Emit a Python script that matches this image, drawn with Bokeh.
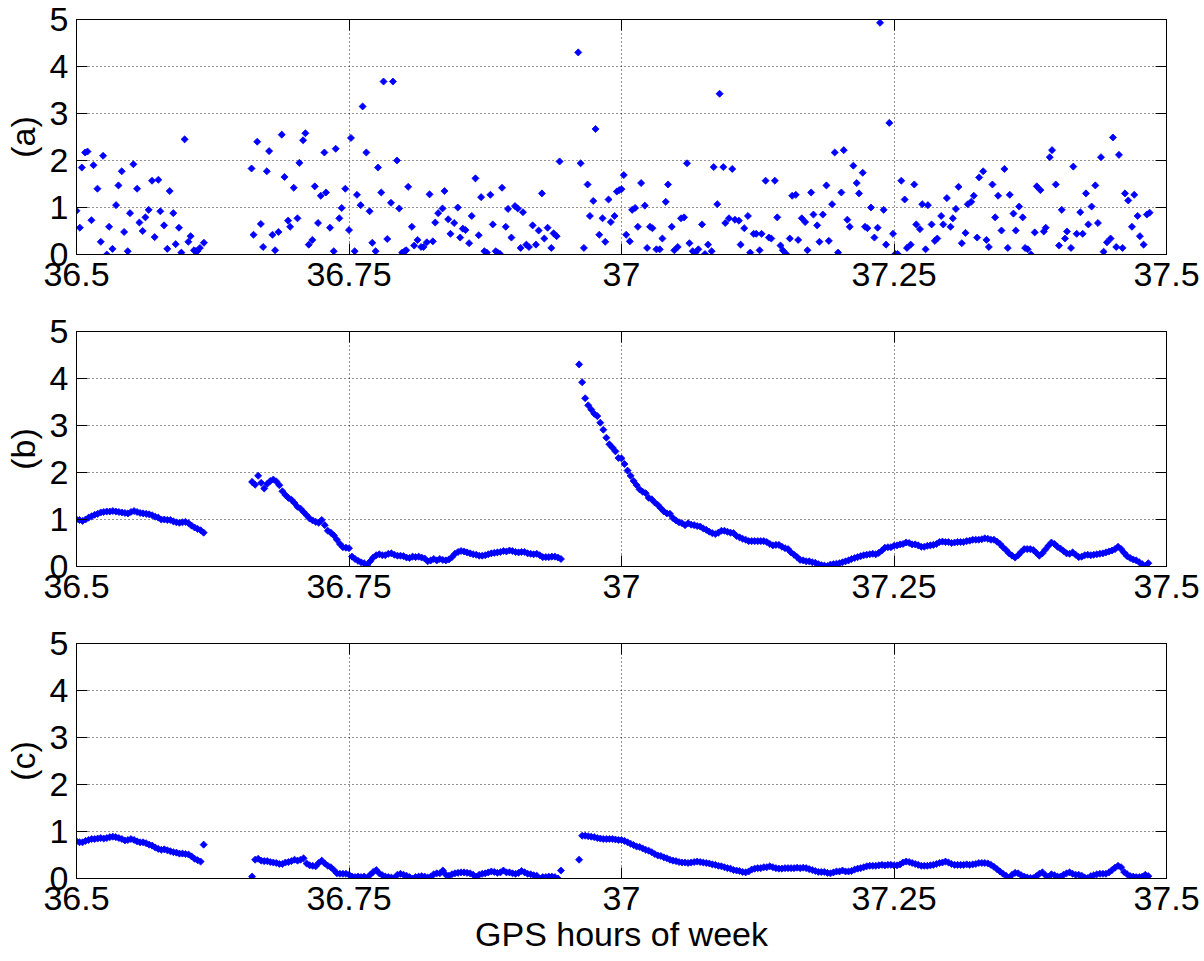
from bokeh.plotting import figure
from bokeh.models import Range1d, FixedTicker, LinearAxis, CustomJSTickFormatter
from bokeh.layouts import column
from bokeh.embed import file_html
from bokeh.resources import INLINE

# ---------------- data ----------------
x_ticks = [36.5, 36.75, 37.0, 37.25, 37.5]
y_ticks = [0, 1, 2, 3, 4, 5]
panel_labels = ["(a)", "(b)", "(c)"]
x_label = "GPS hours of week"

# panel (a): scattered values (hours, value)
a_hours = [
    36.5000, 36.5031, 36.5049, 36.5079, 36.5101, 36.5137, 36.5156, 36.5192, 36.5223, 36.5244,
    36.5278, 36.5299, 36.5330, 36.5363, 36.5385, 36.5415, 36.5437, 36.5470, 36.5491, 36.5522,
    36.5556, 36.5577, 36.5607, 36.5632, 36.5662, 36.5693, 36.5717, 36.5751, 36.5769, 36.5803,
    36.5833, 36.5855, 36.5888, 36.5910, 36.5940, 36.5962, 36.5992, 36.6026, 36.6047, 36.6078,
    36.6093, 36.6108, 36.6132, 36.6169,
    36.6606, 36.6624, 36.6658, 36.6691, 36.6712, 36.6746, 36.6767, 36.6798, 36.6822, 36.6853,
    36.6883, 36.6908, 36.6941, 36.6960, 36.6993, 36.7027, 36.7045, 36.7079, 36.7100, 36.7131,
    36.7164, 36.7186, 36.7216, 36.7241, 36.7274, 36.7289, 36.7326, 36.7360, 36.7378, 36.7411,
    36.7433, 36.7466, 36.7500, 36.7518, 36.7552, 36.7573, 36.7607, 36.7625, 36.7659, 36.7689,
    36.7714, 36.7744, 36.7766, 36.7796, 36.7817, 36.7851, 36.7885, 36.7903, 36.7940, 36.7961,
    36.7988, 36.8010, 36.8025, 36.8043, 36.8077, 36.8098, 36.8129, 36.8162, 36.8184, 36.8214,
    36.8239, 36.8269, 36.8291, 36.8318, 36.8358, 36.8376, 36.8410, 36.8431, 36.8465, 36.8498,
    36.8520, 36.8544, 36.8569, 36.8602, 36.8626, 36.8660, 36.8690, 36.8712, 36.8742, 36.8764,
    36.8797, 36.8819, 36.8846, 36.8864, 36.8886, 36.8904, 36.8938, 36.8959, 36.8990, 36.9023,
    36.9048, 36.9075, 36.9096, 36.9127, 36.9151, 36.9185, 36.9215, 36.9240, 36.9270, 36.9292,
    36.9322, 36.9356, 36.9377, 36.9405, 36.9432,
    36.9603, 36.9625, 36.9655, 36.9689, 36.9710, 36.9741, 36.9762, 36.9796, 36.9826, 36.9851,
    36.9881, 36.9902, 36.9936, 36.9957, 36.9979, 37.0000, 37.0021, 37.0043, 37.0076, 37.0098,
    37.0125, 37.0150, 37.0180, 37.0214, 37.0235, 37.0262, 37.0284, 37.0320, 37.0351, 37.0375,
    37.0406, 37.0427, 37.0461, 37.0485, 37.0516, 37.0546, 37.0574, 37.0601, 37.0623, 37.0653,
    37.0678, 37.0705, 37.0739, 37.0766, 37.0794, 37.0827, 37.0846, 37.0879, 37.0900, 37.0934,
    37.0952, 37.0986, 37.1016, 37.1041, 37.1077, 37.1093, 37.1126, 37.1160, 37.1181, 37.1212,
    37.1236, 37.1267, 37.1285, 37.1322, 37.1352, 37.1374, 37.1407, 37.1429, 37.1459, 37.1480,
    37.1511, 37.1544, 37.1566, 37.1599, 37.1621, 37.1654, 37.1685, 37.1706, 37.1740, 37.1761,
    37.1795, 37.1816, 37.1847, 37.1880, 37.1902, 37.1932, 37.1956, 37.1987, 37.2017, 37.2039,
    37.2072, 37.2094, 37.2127, 37.2158, 37.2179, 37.2213, 37.2234, 37.2256, 37.2289, 37.2320,
    37.2350, 37.2372, 37.2405, 37.2427, 37.2457, 37.2491, 37.2512, 37.2534, 37.2567, 37.2598,
    37.2619, 37.2653, 37.2686, 37.2704, 37.2738, 37.2759, 37.2790, 37.2811, 37.2845, 37.2875,
    37.2897, 37.2933, 37.2952, 37.2985, 37.3019, 37.3040, 37.3068, 37.3092, 37.3122, 37.3156,
    37.3177, 37.3208, 37.3232, 37.3263, 37.3281, 37.3318, 37.3348, 37.3370, 37.3403, 37.3428,
    37.3455, 37.3486, 37.3513, 37.3544, 37.3562, 37.3596, 37.3617, 37.3648, 37.3681, 37.3703,
    37.3727, 37.3758, 37.3791, 37.3810, 37.3843, 37.3874, 37.3892, 37.3929, 37.3950, 37.3984,
    37.4014, 37.4039, 37.4069, 37.4087, 37.4124, 37.4145, 37.4176, 37.4209, 37.4231, 37.4261,
    37.4283, 37.4313, 37.4347, 37.4371, 37.4399, 37.4423, 37.4454, 37.4487, 37.4509, 37.4539,
    37.4564, 37.4597, 37.4619, 37.4649, 37.4683, 37.4704, 37.4735, 37.4756, 37.4790, 37.4820,
    37.4845,
]
a_values = [
    0.93, 0.57, 1.85, 2.17, 2.19, 0.73, 1.90, 1.40, 0.27, 2.10,
    0.00, 0.59, 0.12, 1.05, 1.47, 1.77, 0.48, 0.07, 0.88, 1.92,
    1.40, 0.68, 0.50, 0.79, 0.95, 1.57, 0.37, 1.59, 0.92, 0.62,
    0.12, 1.35, 0.88, 0.22, 0.57, 0.04, 2.45, 0.27, 0.39, 0.09,
    0.07, 0.07, 0.14, 0.25,
    1.83, 0.42, 2.40, 0.65, 0.16, 1.77, 2.20, 0.42, 0.09, 0.48,
    2.55, 1.65, 0.72, 0.59, 1.42, 0.77, 1.95, 2.43, 2.58, 0.21,
    0.31, 1.45, 0.67, 1.25, 2.17, 1.32, 0.57, 0.07, 2.25, 0.77,
    0.99, 1.40, 0.52, 2.48, 0.07, 1.27, 1.05, 3.15, 2.17, 0.92,
    0.25, 0.07, 1.85, 1.32, 3.68, 0.33, 1.10, 3.68, 2.00, 0.98,
    0.04, 0.07, 0.09, 1.44, 0.59, 0.19, 0.31, 0.16, 0.16, 0.26,
    1.28, 0.28, 0.68, 0.88, 0.98, 1.35, 0.75, 0.44, 0.67, 1.00,
    0.36, 0.55, 0.52, 0.24, 0.82, 1.62, 0.41, 1.22, 0.07, 0.04,
    1.27, 0.64, 0.07, 0.04, 0.01, 1.42, 0.59, 0.97, 0.36, 1.03,
    0.98, 0.14, 0.90, 0.21, 0.16, 0.62, 0.21, 0.51, 1.30, 0.34,
    0.57, 0.14, 0.45, 0.39, 1.98,
    4.30, 1.94, 0.14, 1.49, 0.82, 1.14, 2.67, 0.42, 0.77, 0.27,
    1.17, 0.69, 0.82, 1.34, 1.37, 1.39, 1.69, 0.42, 0.28, 0.95,
    0.99, 0.59, 1.52, 1.04, 0.14, 0.59, 0.56, 0.11, 0.11, 0.34,
    1.12, 1.49, 0.59, 0.09, 0.16, 0.77, 0.79, 1.94, 0.24, 0.07,
    0.04, 0.11, 0.64, 0.01, 0.21, 0.07, 1.86, 1.07, 3.42, 1.86,
    0.67, 0.77, 1.82, 0.74, 0.72, 0.21, 0.56, 0.82, 0.04, 0.44,
    0.44, 0.09, 0.44, 1.57, 0.36, 0.34, 1.57, 0.79, 0.19, 0.09,
    0.01, 0.34, 1.25, 1.27, 0.31, 0.77, 0.69, 0.09, 1.32, 0.85,
    0.62, 0.27, 0.85, 1.47, 0.29, 1.07, 2.17, 0.04, 1.32, 2.22,
    0.74, 0.59, 1.89, 1.52, 1.30, 1.74, 0.59, 0.56, 1.00, 0.36,
    0.57, 4.93, 0.95, 0.21, 2.80, 0.44, 0.01, 0.01, 1.57, 1.17,
    0.14, 0.21, 1.49, 0.64, 0.54, 1.07, 0.11, 1.05, 0.64, 0.29,
    0.34, 0.82, 0.64, 1.20, 0.59, 0.77, 0.97, 1.44, 0.24, 0.46,
    1.07, 1.12, 1.25, 0.36, 1.64, 1.77, 0.31, 0.16, 1.49, 0.79,
    1.25, 0.51, 1.82, 0.14, 1.27, 0.87, 0.51, 1.02, 0.79, 0.14,
    0.11, 0.00, 0.47, 1.45, 1.37, 0.49, 0.57, 2.07, 2.22, 1.49,
    0.19, 0.95, 0.34, 0.49, 0.14, 1.87, 0.44, 0.90, 0.44, 1.30,
    0.64, 1.02, 1.47, 0.67, 2.07, 0.06, 0.26, 0.34, 2.49, 0.16,
    2.12, 0.14, 1.30, 1.15, 0.59, 1.27, 0.82, 0.39, 0.21, 0.85,
    0.89,
]

# panels (b) and (c): one value per 10-s epoch, three data arcs
epoch_hours = 10.0 / 3600.0
arc_start_hours = [36.5, 36.66111, 36.96111]

b_arc1 = [
    1.00, 0.99, 0.97, 1.00, 1.04, 1.07, 1.10, 1.12, 1.15, 1.16,
    1.17, 1.17, 1.18, 1.17, 1.16, 1.15, 1.14, 1.13, 1.16, 1.18,
    1.16, 1.14, 1.13, 1.12, 1.11, 1.09, 1.06, 1.04, 1.00, 1.00,
    0.99, 0.99, 0.96, 0.94, 0.93, 0.94, 0.95, 0.92, 0.87, 0.83,
    0.80, 0.77, 0.72,
]
b_arc2 = [
    1.80, 1.74, 1.93, 1.78, 1.66, 1.76, 1.82, 1.85, 1.81, 1.73,
    1.60, 1.52, 1.46, 1.42, 1.35, 1.27, 1.23, 1.16, 1.09, 1.02,
    0.98, 0.95, 0.93, 0.99, 0.88, 0.76, 0.72, 0.66, 0.57, 0.48,
    0.41, 0.40, 0.39, 0.21, 0.16, 0.12, 0.09, 0.07, 0.03, 0.11,
    0.19, 0.24, 0.26, 0.24, 0.24, 0.27, 0.28, 0.25, 0.23, 0.23,
    0.22, 0.19, 0.18, 0.21, 0.20, 0.21, 0.19, 0.17, 0.11, 0.13,
    0.16, 0.13, 0.16, 0.14, 0.13, 0.15, 0.20, 0.27, 0.31, 0.33,
    0.32, 0.30, 0.28, 0.26, 0.25, 0.23, 0.23, 0.24, 0.26, 0.28,
    0.29, 0.30, 0.31, 0.33, 0.32, 0.34, 0.33, 0.31, 0.30, 0.31,
    0.31, 0.28, 0.27, 0.26, 0.27, 0.24, 0.20, 0.20, 0.20, 0.21,
    0.21, 0.19, 0.16,
]
b_arc3 = [
    4.30, 3.92, 3.58, 3.43, 3.34, 3.25, 3.20, 3.06, 2.91, 2.74,
    2.60, 2.53, 2.45, 2.31, 2.30, 2.18, 2.04, 1.93, 1.82, 1.73,
    1.64, 1.59, 1.56, 1.46, 1.43, 1.36, 1.31, 1.24, 1.17, 1.13,
    1.12, 1.03, 0.98, 0.94, 0.92, 0.88, 0.92, 0.89, 0.88, 0.86,
    0.85, 0.81, 0.78, 0.74, 0.71, 0.69, 0.72, 0.76, 0.76, 0.74,
    0.72, 0.71, 0.65, 0.62, 0.59, 0.57, 0.54, 0.54, 0.54, 0.54,
    0.54, 0.54, 0.52, 0.48, 0.45, 0.46, 0.46, 0.42, 0.39, 0.37,
    0.30, 0.25, 0.20, 0.14, 0.13, 0.11, 0.11, 0.09, 0.08, 0.05,
    0.03, 0.02, 0.01, 0.04, 0.05, 0.06, 0.07, 0.09, 0.11, 0.13,
    0.16, 0.18, 0.20, 0.22, 0.24, 0.25, 0.26, 0.27, 0.26, 0.29,
    0.34, 0.40, 0.41, 0.41, 0.44, 0.45, 0.47, 0.48, 0.51, 0.50,
    0.47, 0.47, 0.45, 0.42, 0.42, 0.44, 0.45, 0.46, 0.48, 0.52,
    0.53, 0.52, 0.52, 0.50, 0.51, 0.52, 0.52, 0.52, 0.54, 0.55,
    0.57, 0.57, 0.57, 0.58, 0.60, 0.59, 0.57, 0.57, 0.53, 0.48,
    0.41, 0.35, 0.28, 0.23, 0.19, 0.24, 0.31, 0.37, 0.37, 0.37,
    0.35, 0.29, 0.23, 0.28, 0.36, 0.44, 0.51, 0.48, 0.42, 0.38,
    0.33, 0.28, 0.27, 0.30, 0.25, 0.20, 0.21, 0.24, 0.25, 0.24,
    0.25, 0.26, 0.27, 0.28, 0.30, 0.32, 0.34, 0.37, 0.42, 0.37,
    0.29, 0.22, 0.18, 0.15, 0.13, 0.09, 0.05, 0.01, 0.07,
]

c_arc1 = [
    0.79, 0.77, 0.77, 0.80, 0.82, 0.84, 0.84, 0.85, 0.86, 0.85,
    0.86, 0.88, 0.89, 0.88, 0.86, 0.84, 0.81, 0.82, 0.84, 0.82,
    0.79, 0.77, 0.77, 0.75, 0.72, 0.70, 0.66, 0.63, 0.61, 0.62,
    0.60, 0.58, 0.56, 0.55, 0.53, 0.53, 0.52, 0.51, 0.47, 0.42,
    0.39, 0.36, 0.72,
]
c_arc2 = [
    0.04, 0.40, 0.42, 0.38, 0.37, 0.37, 0.35, 0.34, 0.33, 0.31,
    0.31, 0.34, 0.35, 0.37, 0.40, 0.38, 0.40, 0.43, 0.32, 0.28,
    0.27, 0.26, 0.33, 0.38, 0.32, 0.27, 0.24, 0.18, 0.11, 0.10,
    0.10, 0.10, 0.08, 0.04, 0.03, 0.04, 0.03, 0.04, 0.01, 0.08,
    0.14, 0.18, 0.11, 0.07, 0.04, 0.03, 0.02, 0.01, 0.08, 0.10,
    0.08, 0.06, 0.03, 0.00, 0.03, 0.04, 0.05, 0.04, 0.02, 0.04,
    0.09, 0.11, 0.11, 0.17, 0.08, 0.06, 0.09, 0.11, 0.12, 0.13,
    0.13, 0.12, 0.11, 0.08, 0.04, 0.08, 0.10, 0.11, 0.13, 0.15,
    0.14, 0.12, 0.13, 0.17, 0.13, 0.13, 0.11, 0.10, 0.12, 0.16,
    0.13, 0.10, 0.09, 0.07, 0.06, 0.00, 0.03, 0.03, 0.04, 0.04,
    0.03, 0.00, 0.17,
]
c_arc3 = [
    0.40, 0.91, 0.91, 0.90, 0.89, 0.88, 0.86, 0.85, 0.84, 0.84,
    0.84, 0.84, 0.83, 0.82, 0.82, 0.80, 0.77, 0.74, 0.71, 0.68,
    0.67, 0.64, 0.61, 0.59, 0.56, 0.52, 0.49, 0.48, 0.45, 0.43,
    0.40, 0.38, 0.37, 0.35, 0.34, 0.34, 0.33, 0.34, 0.35, 0.36,
    0.35, 0.34, 0.33, 0.32, 0.30, 0.29, 0.27, 0.26, 0.24, 0.22,
    0.21, 0.18, 0.17, 0.16, 0.14, 0.13, 0.15, 0.19, 0.21, 0.22,
    0.22, 0.24, 0.24, 0.26, 0.24, 0.22, 0.21, 0.21, 0.22, 0.22,
    0.22, 0.22, 0.23, 0.22, 0.23, 0.22, 0.20, 0.18, 0.16, 0.14,
    0.14, 0.14, 0.12, 0.11, 0.13, 0.15, 0.15, 0.17, 0.15, 0.15,
    0.16, 0.19, 0.21, 0.22, 0.24, 0.26, 0.27, 0.27, 0.27, 0.28,
    0.29, 0.28, 0.29, 0.29, 0.28, 0.28, 0.30, 0.34, 0.36, 0.35,
    0.33, 0.31, 0.29, 0.27, 0.27, 0.27, 0.28, 0.29, 0.31, 0.33,
    0.34, 0.36, 0.34, 0.31, 0.29, 0.29, 0.29, 0.29, 0.30, 0.29,
    0.30, 0.31, 0.33, 0.33, 0.33, 0.32, 0.29, 0.25, 0.20, 0.15,
    0.10, 0.06, 0.01, 0.08, 0.12, 0.11, 0.07, 0.04, 0.02, 0.01,
    0.01, 0.05, 0.10, 0.13, 0.07, 0.04, 0.09, 0.07, 0.04, 0.04,
    0.08, 0.11, 0.13, 0.10, 0.08, 0.08, 0.06, 0.02, 0.01, 0.05,
    0.07, 0.09, 0.10, 0.10, 0.10, 0.13, 0.18, 0.23, 0.27, 0.24,
    0.14, 0.09, 0.05, 0.04, 0.03, 0.03, 0.04, 0.08, 0.05,
]


def arcs_to_xy(arcs):
    xs, ys = [], []
    for start, arc in zip(arc_start_hours, arcs):
        for i, v in enumerate(arc):
            xs.append(start + i * epoch_hours)
            ys.append(v)
    return xs, ys


b_hours, b_values = arcs_to_xy([b_arc1, b_arc2, b_arc3])
c_hours, c_values = arcs_to_xy([c_arc1, c_arc2, c_arc3])

# ---------------- styling ----------------
FONT = "Liberation Sans"
BLUE = "#0000ff"


def make_panel(label, xs, ys, height, bottom_border, xlabel=None):
    p = figure(
        width=1204, height=height,
        x_range=Range1d(36.5, 37.5), y_range=Range1d(0, 5),
        output_backend="svg", toolbar_location=None, tools="",
        min_border_left=76, min_border_right=38,
        min_border_top=19, min_border_bottom=bottom_border,
        background_fill_color="white", border_fill_color="white",
    )
    p.outline_line_color = "black"
    p.outline_line_width = 1

    for ax, ticks in ((p.xaxis[0], x_ticks), (p.yaxis[0], y_ticks)):
        ax.ticker = FixedTicker(ticks=ticks)
        ax.formatter = CustomJSTickFormatter(code="return tick.toString();")
        ax.major_tick_in = 11
        ax.major_tick_out = 0
        ax.minor_tick_line_color = None
        ax.major_tick_line_color = "black"
        ax.axis_line_color = "black"
        ax.major_label_text_font = FONT
        ax.major_label_text_font_size = "34px"
        ax.major_label_text_color = "black"
        ax.major_label_standoff = 8
        ax.axis_label_text_font = FONT
        ax.axis_label_text_font_size = "34px"
        ax.axis_label_text_font_style = "normal"
        ax.axis_label_text_color = "black"

    p.yaxis[0].axis_label = label
    p.yaxis[0].axis_label_standoff = 5
    if xlabel:
        p.xaxis[0].axis_label = xlabel
        p.xaxis[0].axis_label_standoff = 2

    # mirrored tick marks on top and right, like a boxed plot
    top = LinearAxis(ticker=FixedTicker(ticks=x_ticks),
                     formatter=CustomJSTickFormatter(code="return '';"))
    right = LinearAxis(ticker=FixedTicker(ticks=y_ticks),
                       formatter=CustomJSTickFormatter(code="return '';"))
    for ax in (top, right):
        ax.major_tick_in = 11
        ax.major_tick_out = 0
        ax.minor_tick_line_color = None
        ax.major_tick_line_color = "black"
        ax.axis_line_color = "black"
        ax.major_label_text_font_size = "0px"
        ax.major_label_standoff = 0
    p.add_layout(top, "above")
    p.add_layout(right, "right")

    for g in (p.xgrid[0], p.ygrid[0]):
        g.grid_line_color = "black"
        g.grid_line_alpha = 0.85
        g.grid_line_dash = "1 3"
        g.grid_line_width = 1
    p.xgrid[0].ticker = FixedTicker(ticks=x_ticks)
    p.ygrid[0].ticker = FixedTicker(ticks=y_ticks)

    p.scatter(xs, ys, marker="square", size=5, angle=0.785398,
              fill_color=BLUE, line_color=BLUE, line_width=0.8)
    return p


pa = make_panel(panel_labels[0], a_hours, a_values, 312, 58)
pb = make_panel(panel_labels[1], b_hours, b_values, 312, 58)
pc = make_panel(panel_labels[2], c_hours, c_values, 336, 82, xlabel=x_label)

layout = column(pa, pb, pc, spacing=0)
open("out.html", "w").write(file_html(layout, INLINE))
